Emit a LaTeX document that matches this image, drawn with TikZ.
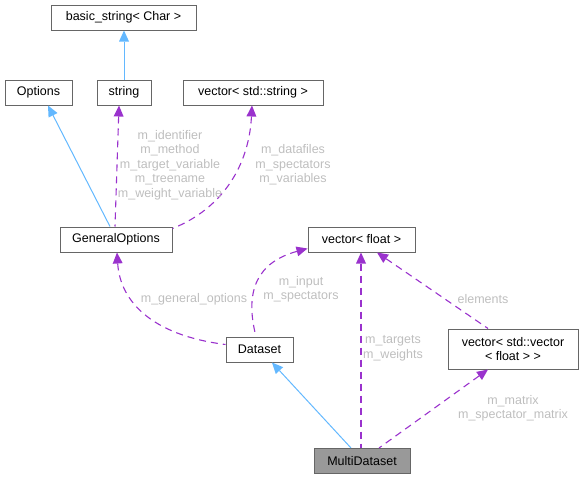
\documentclass[tikz,border=0pt]{standalone}
\usepackage{fontspec}
\setmainfont{Liberation Sans}
\usetikzlibrary{arrows.meta}

\definecolor{edgepurple}{HTML}{9A32CD}
\definecolor{edgeblue}{HTML}{63B8FF}
\definecolor{boxborder}{HTML}{666666}
\definecolor{labelgrey}{HTML}{BEBEBE}
\definecolor{focusfill}{HTML}{999999}

\tikzset{
  classbox/.style={
    draw=boxborder, fill=white, line width=1pt,
    minimum height=25pt, inner sep=0pt, align=center,
    font=\fontsize{12.5}{14.5}\selectfont
  },
  usage/.style={
    draw=edgepurple, line width=1.1pt, dash pattern=on 7pt off 5pt,
    {Triangle[length=11pt,width=10pt,fill=edgepurple,line width=0pt]}-
  },
  inherit/.style={
    draw=edgeblue, line width=1pt,
    {Triangle[length=11pt,width=10pt,fill=edgeblue,line width=0pt]}-
  },
  edgelabel/.style={
    text=labelgrey, align=center, inner sep=0pt,
    font=\fontsize{12.5}{14.5}\selectfont
  }
}

\begin{document}
\begin{tikzpicture}[x=1pt,y=-1pt]
      \useasboundingbox (0,0) rectangle (584,477);

      \node[classbox, minimum width=145pt] (basicstr) at (123.5,17.5) {basic\_string< Char >};
      \node[classbox, minimum width=67pt] (options) at (38.5,92.5) {Options};
      \node[classbox, minimum width=54pt] (str) at (124,92.5) {string};
      \node[classbox, minimum width=140pt] (vecstr) at (253,92.5) {vector< std::string >};
      \node[classbox, minimum width=112pt] (genopts) at (116,239.5) {GeneralOptions};
      \node[classbox, minimum width=107pt] (vecfloat) at (361.5,239.5) {vector< float >};
      \node[classbox, minimum width=67pt] (dataset) at (259.5,349.5) {Dataset};
      \node[classbox, minimum width=130pt, minimum height=40pt] (vecvec) at (513,349) {vector< std::vector\\< float > >};
      \node[classbox, minimum width=96pt, fill=focusfill] (multi) at (362,461) {MultiDataset};

      \draw[inherit]
        (str.north |- basicstr.south) -- (str.north)
      ;
      \draw[inherit]
        ([xshift=9.5pt]options.south) -- ([xshift=-6pt]genopts.north)
      ;
      \draw[usage]
        ([xshift=-5pt]str.south) -- ([xshift=-1pt]genopts.north)
      ;
      \draw[usage]
        ([xshift=-1pt]vecstr.south)
        .. controls +(-3,60) and +(50,-20) ..
        ([yshift=-2pt]genopts.north east)
      ;
      \draw[usage]
        ([xshift=1pt]genopts.south)
        .. controls (120,300) and (150,335) ..
        ([yshift=5pt]dataset.west)
      ;
      \draw[usage]
        ([yshift=4pt]vecfloat.south west)
        .. controls (258,262) and (244,290) ..
        ([xshift=-3.5pt]dataset.north)
      ;
      \draw[usage]
        ([xshift=-0.5pt]vecfloat.south) -- ([xshift=-1pt]multi.north)
      ;
      \draw[usage]
        ([xshift=15.5pt]vecfloat.south) -- ([xshift=-25pt]vecvec.north)
      ;
      \draw[inherit]
        ([xshift=12.5pt]dataset.south) -- ([xshift=-11pt]multi.north)
      ;
      \draw[usage]
        ([xshift=-25pt]vecvec.south) -- ([xshift=17pt]multi.north)
      ;

      \node[edgelabel] (idlabel) at (170,165)
        {m\_identifier\\m\_method\\m\_target\_variable\\m\_treename\\m\_weight\_variable};
      \node[edgelabel] (filelabel) at (293,165)
        {m\_datafiles\\m\_spectators\\m\_variables};
      \node[edgelabel] (optlabel) at (194,299) {m\_general\_options};
      \node[edgelabel] (inputlabel) at (301,289.5) {m\_input\\m\_spectators};
      \node[edgelabel] (targetlabel) at (393,348.5) {m\_targets\\m\_weights};
      \node[edgelabel] (elemlabel) at (483,299) {elements};
      \node[edgelabel] (matrixlabel) at (513,408.5) {m\_matrix\\m\_spectator\_matrix};
    \end{tikzpicture}
\end{document}
